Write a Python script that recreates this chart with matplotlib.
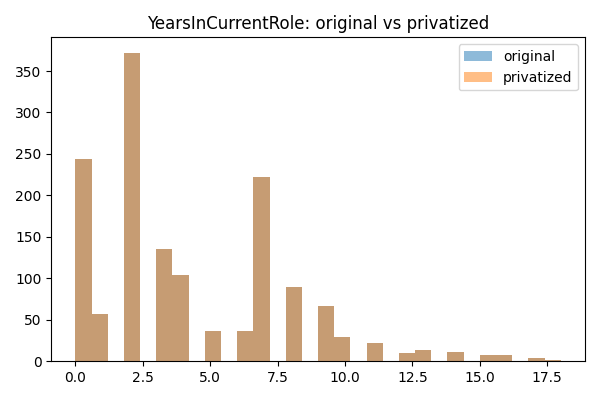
import numpy as np
import matplotlib
matplotlib.use("Agg")
import matplotlib.pyplot as plt

years = [0, 1, 2, 3, 4, 5, 6, 7, 8, 9, 10, 11, 12, 13, 14, 15, 16, 17, 18]
counts_original = [244, 57, 372, 135, 104, 36, 36, 222, 89, 67, 29, 22, 10, 13, 11, 7, 7, 4, 2]
counts_privatized = [244, 57, 372, 135, 104, 36, 36, 222, 89, 67, 29, 22, 10, 13, 11, 7, 7, 4, 2]

orig = np.repeat(years, counts_original)
priv = np.repeat(years, counts_privatized)

fig, ax = plt.subplots(figsize=(6, 4), dpi=100)
ax.hist(orig, bins=30, alpha=0.5, label="original")
ax.hist(priv, bins=30, alpha=0.5, label="privatized")
ax.set_title("YearsInCurrentRole: original vs privatized")
ax.legend()
fig.tight_layout()
fig.savefig("out.png")
